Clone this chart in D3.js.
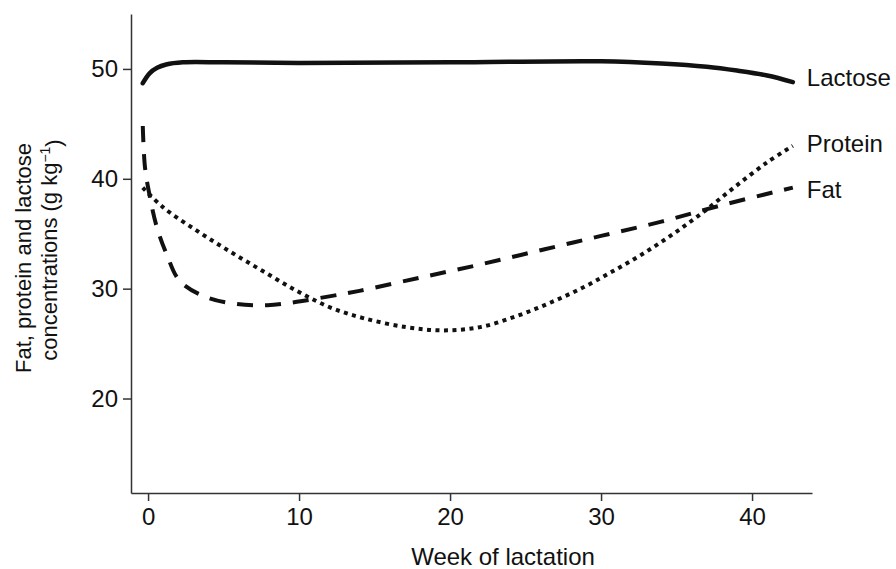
<!DOCTYPE html>
<html>
<head>
<meta charset="utf-8">
<script src="https://cdn.jsdelivr.net/npm/d3@7"></script>
<style>
  body { margin: 0; background: #fff; }
  text { font-family: "Liberation Sans", Arial, sans-serif; fill: #111; }
</style>
</head>
<body>
<svg id="chart" width="896" height="569"></svg>
<script>
// values (week of lactation, g/kg)
const lactoseWeek = [-0.35, 0.1, 0.6, 1.2, 2.3, 5, 10, 20, 30, 34, 37, 39, 41, 42.7];
const lactoseVal  = [48.7, 49.6, 50.1, 50.4, 50.6, 50.6, 50.55, 50.6, 50.7, 50.5, 50.2, 49.85, 49.4, 48.8];

const proteinWeek = [-0.35, 1.0, 3.2, 5.4, 7.6, 9.85, 12.05, 14.3, 17.1, 19.5, 22, 24.4, 26.6, 28.8, 30.8, 32.8, 34.8, 36.8, 38.8, 41.0, 42.7];
const proteinVal  = [39.2, 37.4, 35.3, 33.4, 31.6, 29.8, 28.3, 27.3, 26.5, 26.2, 26.5, 27.5, 28.7, 30.1, 31.6, 33.2, 35.0, 37.0, 39.2, 41.5, 43.0];

const fatWeek = [-0.35, -0.2, 0.13, 0.58, 1.24, 2.1, 3.9, 5.9, 7.9, 9.85, 12, 14, 18, 22, 26, 30, 34, 38, 42.7];
const fatVal  = [44.8, 41.0, 38.3, 35.6, 33.1, 30.7, 29.2, 28.6, 28.5, 28.8, 29.3, 29.8, 31.0, 32.2, 33.5, 34.8, 36.1, 37.6, 39.2];

const seriesNames = ["Lactose", "Protein", "Fat"];
const labelAt = [49.2, 43.2, 39.05];  // where the end labels sit (y value)

const xTicks = [0, 10, 20, 30, 40];
const yTicks = [20, 30, 40, 50];

const svg = d3.select("#chart");

const x = d3.scaleLinear().domain([-1.13, 43.97]).range([131, 812]);
const y = d3.scaleLinear().domain([11.4, 55]).range([493, 14]);

// axes
const xAxis = svg.append("g")
  .attr("transform", "translate(0,493)")
  .call(d3.axisBottom(x).tickValues(xTicks).tickSize(8).tickSizeOuter(0).tickPadding(7));

const yAxis = svg.append("g")
  .attr("transform", "translate(131,0)")
  .call(d3.axisLeft(y).tickValues(yTicks).tickSize(8).tickSizeOuter(0).tickPadding(5));

[xAxis, yAxis].forEach(g => {
  g.selectAll("path, line").attr("stroke", "#333").attr("stroke-width", 1.5);
  g.selectAll("text").style("font-size", "24px").attr("fill", "#111");
});

// axis titles
svg.append("text")
  .attr("x", 503).attr("y", 565)
  .attr("text-anchor", "middle")
  .style("font-size", "24px")
  .text("Week of lactation");

svg.append("text")
  .attr("transform", "translate(31,258) rotate(-90)")
  .attr("text-anchor", "middle")
  .style("font-size", "22px")
  .text("Fat, protein and lactose");

const yl2 = svg.append("text")
  .attr("transform", "translate(57,250) rotate(-90)")
  .attr("text-anchor", "middle")
  .style("font-size", "22px");
yl2.append("tspan").text("concentrations (g kg");
yl2.append("tspan").attr("dy", "-0.5em").style("font-size", "14px").text("\u22121");
yl2.append("tspan").attr("dy", "0.5em").text(")");

// curves
const line = d3.line()
  .x(d => x(d[0]))
  .y(d => y(d[1]))
  .curve(d3.curveCatmullRom.alpha(0.5));

const series = [
  { pts: d3.zip(lactoseWeek, lactoseVal), width: 4.5, dash: null, cap: "round" },
  { pts: d3.zip(proteinWeek, proteinVal), width: 4, dash: "4,4.5", cap: "butt" },
  { pts: d3.zip(fatWeek, fatVal), width: 4, dash: "16,12", cap: "butt" }
];

series.forEach((s, i) => {
  svg.append("path")
    .datum(s.pts)
    .attr("d", line)
    .attr("fill", "none")
    .attr("stroke", "#111")
    .attr("stroke-width", s.width)
    .attr("stroke-linecap", s.cap)
    .attr("stroke-dasharray", s.dash);

  const last = s.pts[s.pts.length - 1];
  svg.append("text")
    .attr("x", x(last[0]) + 14)
    .attr("y", y(labelAt[i]))
    .attr("dy", "0.36em")
    .style("font-size", "24px")
    .text(seriesNames[i]);
});
</script>
</body>
</html>
